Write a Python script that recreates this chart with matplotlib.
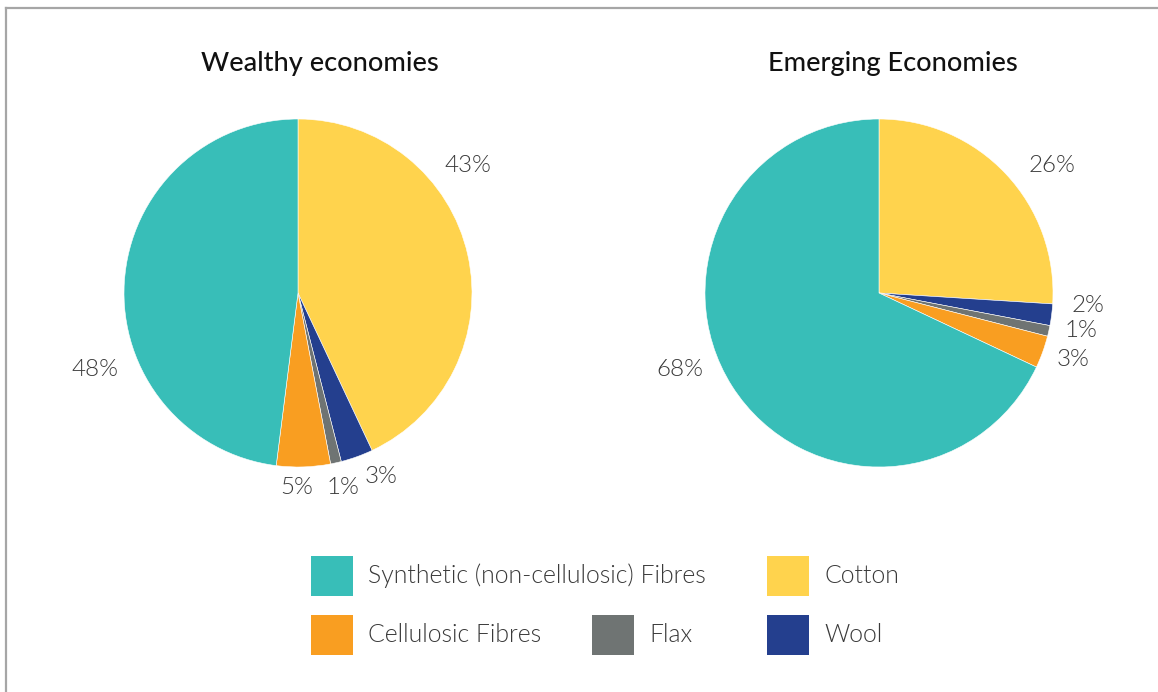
import matplotlib
matplotlib.use("Agg")
import matplotlib.pyplot as plt
from matplotlib.patches import Rectangle
from matplotlib.lines import Line2D

# ---- data ----
categories = ["Cotton", "Wool", "Flax", "Cellulosic Fibres", "Synthetic (non-cellulosic) Fibres"]
wealthy = [43, 3, 1, 5, 48]
emerging = [26, 2, 1, 3, 68]
titles = ["Wealthy economies", "Emerging Economies"]
colors = ["#FFD34D", "#243F8E", "#6F7473", "#F99E21", "#38BEB8"]

# legend order (rows of 3 columns, None = empty slot)
legend_order = ["Synthetic (non-cellulosic) Fibres", None, "Cotton",
                "Cellulosic Fibres", "Flax", "Wool"]

# label placements (relative to pie radius), layout only
label_pos = [
    [(0.977, 0.730), (0.477, -1.052), (0.259, -1.115), (-0.006, -1.115), (-1.167, -0.437)],
    [(0.994, 0.730), (1.201, -0.069), (1.161, -0.218), (1.115, -0.385), (-1.144, -0.437)],
]

W, H = 1158, 692
plt.rcParams['font.family'] = ['Lato', 'DejaVu Sans']
fig = plt.figure(figsize=(W / 100, H / 100), dpi=100)

def px(x, y):
    return x / W, 1 - y / H

# border lines (top and left)
fig.add_artist(Line2D([5.5 / W, 1], [1 - 7.5 / H, 1 - 7.5 / H], color="#A6A6A6", lw=1.6,
                      transform=fig.transFigure))
fig.add_artist(Line2D([5.5 / W, 5.5 / W], [0, 1 - 7.5 / H], color="#A6A6A6", lw=1.6,
                      transform=fig.transFigure))

centers = [(298, 293), (879, 293)]
title_x = [320, 893]
R = 174
for i, vals in enumerate([wealthy, emerging]):
    cx, cy = centers[i]
    ax = fig.add_axes([(cx - R) / W, 1 - (cy + R) / H, 2 * R / W, 2 * R / H])
    wedges, _ = ax.pie(vals, colors=colors, startangle=90, counterclock=False, radius=1,
                       wedgeprops=dict(edgecolor="white", linewidth=0.4))
    ax.set_xlim(-1, 1)
    ax.set_ylim(-1, 1)
    ax.set_aspect("equal")
    ax.axis("off")
    for v, (lx, ly) in zip(vals, label_pos[i]):
        ax.text(lx, ly, f"{v}%", ha="center", va="center", fontsize=17.4,
                fontweight=300, color="#3A3A3A", clip_on=False)
    tx, ty = px(title_x[i], 64)
    fig.text(tx, ty, titles[i], ha="center", va="center", fontsize=19.5,
             fontweight="medium", color="#111111")

# legend
col_x = [311, 592, 767]
row_y = [576, 635]
for k, name in enumerate(legend_order):
    if name is None:
        continue
    r, c = divmod(k, 3)
    x0, y0 = col_x[c], row_y[r]
    idx = categories.index(name)
    bx, by = px(x0, y0 + 20)
    fig.add_artist(Rectangle((bx, by), 42 / W, 40 / H, transform=fig.transFigure,
                             facecolor=colors[idx], edgecolor="none"))
    tx, ty = px(x0 + 57, y0)
    fig.text(tx, ty, name, ha="left", va="center", fontsize=17.9, fontweight=300,
             color="#3A3A3A")

fig.savefig("out.png", dpi=100)
